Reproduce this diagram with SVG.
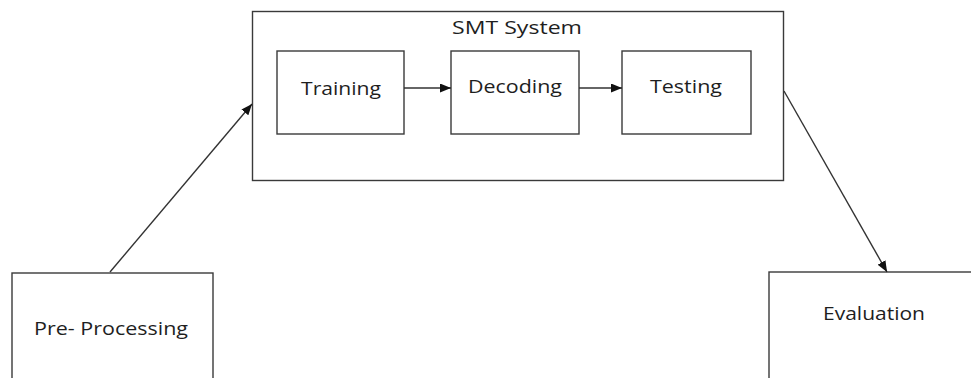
<svg xmlns="http://www.w3.org/2000/svg" width="971" height="378" viewBox="0 0 971 378">
<style>
.box{fill:#fff;stroke:#3a3a3a;stroke-width:1.4}
.lbl{font-family:"Open Sans","DejaVu Sans",sans-serif;font-size:17.5px;fill:#1e1e1e;text-anchor:start}
.con{stroke:#333;stroke-width:1.4;fill:none}
</style>
<defs>
<marker id="ah" markerUnits="userSpaceOnUse" markerWidth="12" markerHeight="9" refX="11" refY="4.5" orient="auto">
<path d="M0,0 L11,4.5 L0,9 z" fill="#111"/>
</marker>
</defs>
<rect width="971" height="378" fill="#fff"/>
<g id="smt">
<rect class="box" x="252.5" y="11.5" width="531" height="169"/>
<text class="lbl" x="452" y="34" textLength="130" lengthAdjust="spacingAndGlyphs">SMT System</text>
</g>
<g id="training">
<rect class="box" x="277" y="51" width="127" height="83"/>
<text class="lbl" x="301" y="95" textLength="80" lengthAdjust="spacingAndGlyphs">Training</text>
</g>
<g id="decoding">
<rect class="box" x="451" y="51" width="128" height="83"/>
<text class="lbl" x="468" y="93" textLength="94" lengthAdjust="spacingAndGlyphs">Decoding</text>
</g>
<g id="testing">
<rect class="box" x="622" y="51" width="129" height="83"/>
<text class="lbl" x="650" y="93" textLength="72" lengthAdjust="spacingAndGlyphs">Testing</text>
</g>
<g id="preprocessing">
<rect class="box" x="12" y="273" width="201" height="120"/>
<text class="lbl" x="34" y="335" textLength="154" lengthAdjust="spacingAndGlyphs">Pre- Processing</text>
</g>
<g id="evaluation">
<rect class="box" x="769" y="272" width="220" height="120"/>
<text class="lbl" x="823" y="320" textLength="102" lengthAdjust="spacingAndGlyphs">Evaluation</text>
</g>
<g id="connectors">
<line class="con" x1="404" y1="88" x2="451" y2="88" marker-end="url(#ah)"/>
<line class="con" x1="579" y1="88" x2="622" y2="88" marker-end="url(#ah)"/>
<line class="con" x1="110" y1="272" x2="252" y2="104" marker-end="url(#ah)"/>
<line class="con" x1="784" y1="91" x2="887" y2="272" marker-end="url(#ah)"/>
</g>
</svg>
